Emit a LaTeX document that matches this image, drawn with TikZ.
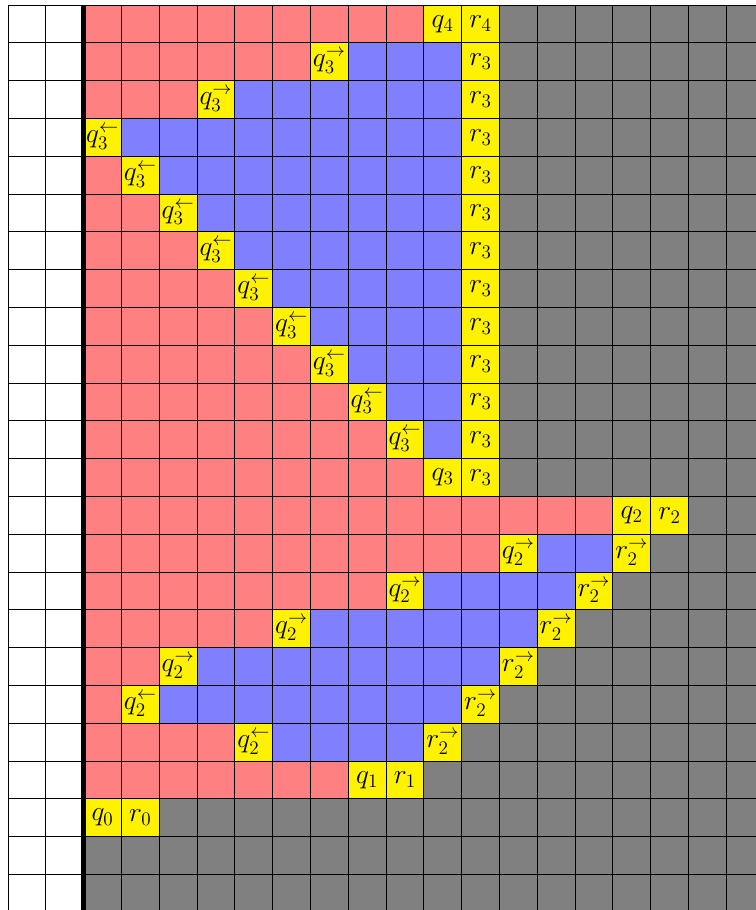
\documentclass[tikz,border=0pt]{standalone}
\begin{document}
\begin{tikzpicture}[x=1cm,y=1cm,
  redcell/.style={fill=red!50},
  bluecell/.style={fill=blue!50},
  yelcell/.style={fill=yellow},
  graycell/.style={fill=gray},
  gridline/.style={draw=black,line width=0.6pt},
  wall/.style={draw=black,line width=3.2pt},
  lab/.style={inner sep=0pt,font=\fontsize{21}{25}\selectfont}]
\useasboundingbox (-0.2116,0.1323) rectangle (19.7884,-23.9418);
\clip (-0.2116,0.1323) rectangle (19.7884,-23.9418);
\fill[graycell] (2,0) rectangle (20,-24);
% red ranges: row/first/last
\foreach \r/\a/\b in {0/0/8,1/0/5,2/0/2,4/0/0,5/0/1,6/0/2,7/0/3,8/0/4,9/0/5,10/0/6,11/0/7,12/0/8,
  13/0/13,14/0/10,15/0/7,16/0/4,17/0/1,18/0/0,19/0/3,20/0/6}
  \fill[redcell] ({2+\a},{-\r}) rectangle ({3+\b},{-\r-1});
% blue ranges
\foreach \r/\a/\b in {1/7/9,2/4/9,3/1/9,4/2/9,5/3/9,6/4/9,7/5/9,8/6/9,9/7/9,10/8/9,11/9/9,
  14/12/13,15/9/12,16/6/11,17/3/10,18/2/9,19/5/8}
  \fill[bluecell] ({2+\a},{-\r}) rectangle ({3+\b},{-\r-1});
% yellow labelled cells
\foreach \r/\c/\t in {0/9/{q_4},0/10/{r_4},
  1/6/{q_3^{\rightarrow}},2/3/{q_3^{\rightarrow}},
  3/0/{q_3^{\leftarrow}},4/1/{q_3^{\leftarrow}},5/2/{q_3^{\leftarrow}},6/3/{q_3^{\leftarrow}},
  7/4/{q_3^{\leftarrow}},8/5/{q_3^{\leftarrow}},9/6/{q_3^{\leftarrow}},10/7/{q_3^{\leftarrow}},
  11/8/{q_3^{\leftarrow}},
  1/10/{r_3},2/10/{r_3},3/10/{r_3},4/10/{r_3},5/10/{r_3},6/10/{r_3},7/10/{r_3},8/10/{r_3},
  9/10/{r_3},10/10/{r_3},11/10/{r_3},12/10/{r_3},12/9/{q_3},
  13/14/{q_2},13/15/{r_2},
  14/11/{q_2^{\rightarrow}},15/8/{q_2^{\rightarrow}},16/5/{q_2^{\rightarrow}},17/2/{q_2^{\rightarrow}},
  18/1/{q_2^{\leftarrow}},19/4/{q_2^{\leftarrow}},
  14/14/{r_2^{\rightarrow}},15/13/{r_2^{\rightarrow}},16/12/{r_2^{\rightarrow}},17/11/{r_2^{\rightarrow}},
  18/10/{r_2^{\rightarrow}},19/9/{r_2^{\rightarrow}},
  20/7/{q_1},20/8/{r_1},21/0/{q_0},21/1/{r_0}}
{
  \fill[yelcell] ({2+\c},{-\r}) rectangle ({3+\c},{-\r-1});
  \node[lab] (l\r-\c) at ({2.5+\c},{-\r-0.5}) {$\t$};
}
\draw[gridline] (0,0) grid (20,-24);
\draw[wall] (2,0) -- (2,-24.3);
\end{tikzpicture}
\end{document}
